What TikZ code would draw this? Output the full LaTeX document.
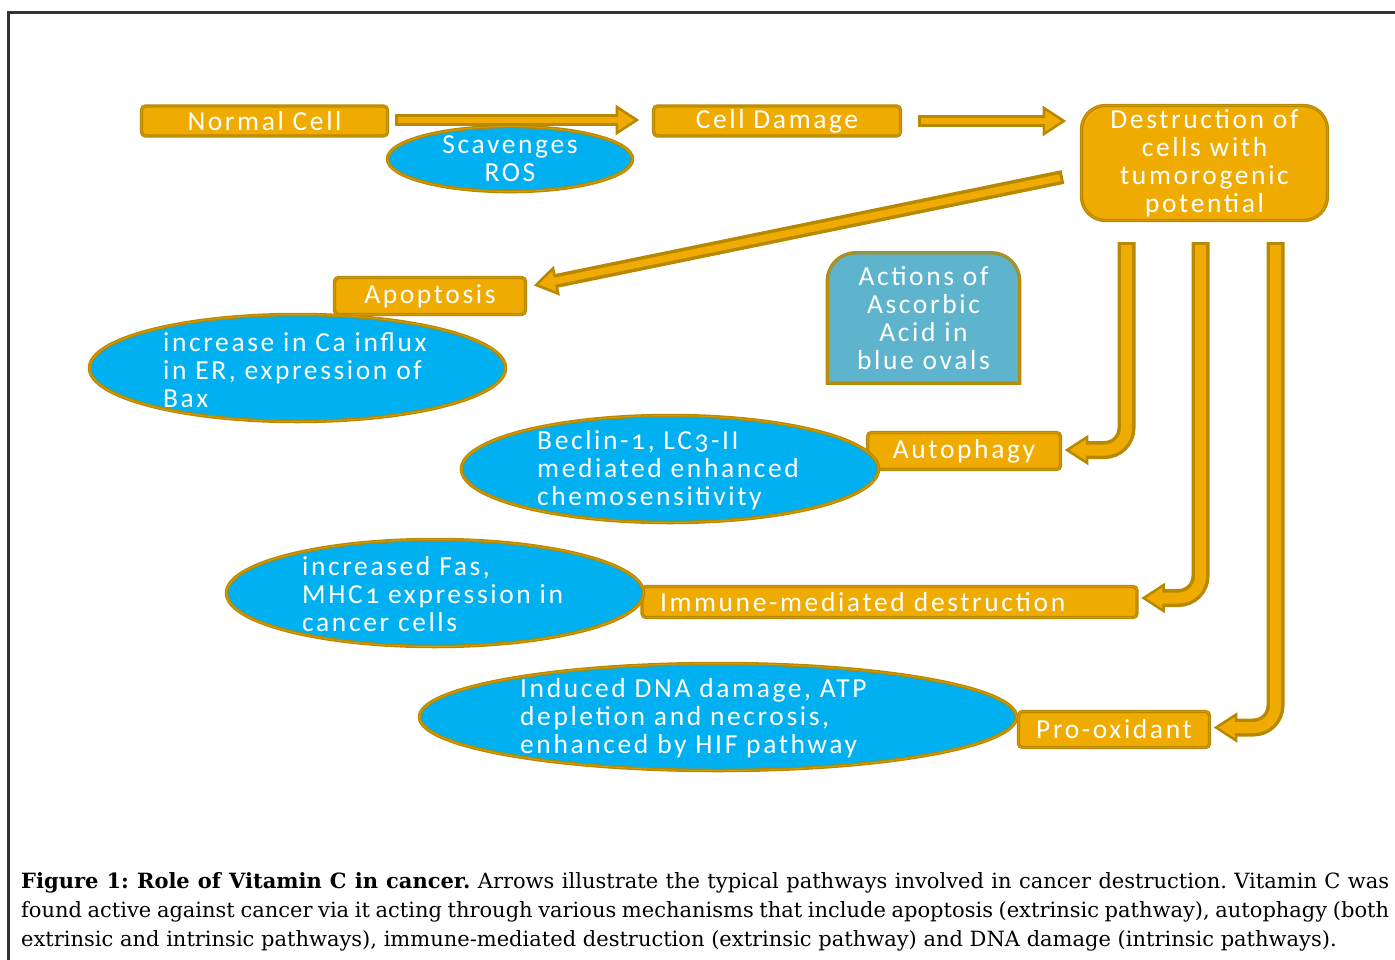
\documentclass[tikz,border=0pt]{standalone}
\usepackage{fontspec}
\setmainfont{DejaVu Serif}
\newfontfamily\dgfont[LetterSpace=9.5,Numbers=OldStyle]{Carlito}
\usetikzlibrary{positioning,calc,shapes.geometric,backgrounds}
\definecolor{boxOr}{HTML}{EFAB00}
\definecolor{rimGold}{HTML}{B88800}
\definecolor{ovBlue}{HTML}{00B0F0}
\definecolor{actBlue}{HTML}{5EB3CD}
\definecolor{frameGray}{HTML}{333333}
\tikzstyle{oBox}=[rectangle,rounded corners=4pt,fill=boxOr,draw=rimGold,line width=1.2pt,double=rimGold!45!boxOr,double distance=0.9pt,text=white,font=\dgfont\fontsize{27.5}{28}\selectfont,inner sep=0pt,align=center]
\tikzstyle{bOval}=[ellipse,fill=ovBlue,draw=rimGold,line width=1.3pt,double=rimGold!45!boxOr,double distance=0.9pt,inner sep=0pt,text=white,font=\dgfont\fontsize{27.5}{28}\selectfont,align=center]
\tikzstyle{ovText}=[text=white,font=\dgfont\fontsize{27.5}{28}\selectfont,inner sep=0pt,align=left]
\tikzstyle{actRim}=[fill=actBlue,draw=rimGold,line width=1.2pt,double=rimGold!45!actBlue,double distance=0.9pt]
\tikzstyle{shOut}=[draw=rimGold,line width=12pt]
\tikzstyle{shIn}=[draw=boxOr,line width=6pt]
\tikzstyle{shOutB}=[draw=rimGold,line width=18pt,rounded corners=22pt]
\tikzstyle{shInB}=[draw=boxOr,line width=11pt,rounded corners=22pt]
\tikzstyle{capText}=[text width=1368pt,align=justify,inner sep=0pt,font=\fontsize{21}{29}\selectfont]
\tikzset{lHead/.pic={\filldraw[fill=boxOr,draw=rimGold,line width=2.5pt] (0,0) -- (20,-13) -- (20,13) -- cycle;}}

\begin{document}
\begin{tikzpicture}[x=1pt,y=-1pt]
\useasboundingbox (0,0) rectangle (1395,959);
\draw[frameGray,line width=3pt] (1400,12) -- (8,12) -- (8,962);

                \draw (264.5,121) node[oBox,minimum width=246pt,minimum height=30pt] (normal) {Normal Cell};
                \draw (777,121) node[oBox,minimum width=247pt,minimum height=30pt] (damage) {Cell Damage};
                \draw (1204.5,163) node[oBox,rounded corners=24pt,minimum width=246pt,minimum height=115pt] (dest) {Destruction of\\cells with\\tumorogenic\\potential};
                \draw (430,296) node[oBox,minimum width=191pt,minimum height=37pt] (apop) {Apoptosis};
                \draw (964,451) node[oBox,minimum width=193pt,minimum height=37pt] (autoph) {Autophagy};
                \draw (889.5,602) node[oBox,minimum height=31pt,text width=459pt,inner xsep=18pt,align=left] (immune) {Immune-mediated destruction};
                \draw (1114,729.5) node[oBox,minimum width=191pt,minimum height=36pt] (prox) {Pro-oxidant};
                \draw (923.5,318) node[ovText,align=center,minimum width=192pt,minimum height=130pt] (actions) {Actions of\\Ascorbic\\Acid in\\blue ovals};
                \begin{scope}[on background layer]
                \draw[actRim] (actions.south west) -- ([yshift=-28pt]actions.north west) arc[start angle=180,end angle=90,radius=28pt] -- ([xshift=-28pt]actions.north east) arc[start angle=90,end angle=0,radius=28pt] -- (actions.south east) -- cycle;
                \end{scope}

                % blue ovals
                \draw (510,159) node[bOval,minimum width=245pt,minimum height=60pt] (ros) {Scavenges\\ROS};
                \draw (297.5,368) node[bOval,minimum width=416pt,minimum height=107pt] (ca) {};
                \draw (670,469) node[bOval,minimum width=417pt,minimum height=107pt] (beclin) {};
                \draw (435,593) node[bOval,minimum width=417pt,minimum height=107pt] (fas) {};
                \draw (718,717) node[bOval,minimum width=597pt,minimum height=107pt] (dna) {};
                \draw ($(ca.center)+(-134.5,2)$) node[ovText,anchor=west] (caTxt) {increase in Ca influx\\in ER, expression of\\Bax};
                \draw ($(beclin.center)+(-133,1)$) node[ovText,anchor=west] (beclinTxt) {Beclin-1, LC3-II\\mediated enhanced\\chemosensitivity};
                \draw ($(fas.center)+(-133,1)$) node[ovText,anchor=west] (fasTxt) {increased Fas,\\MHC1 expression in\\cancer cells};
                \draw ($(dna.center)+(-198,1)$) node[ovText,anchor=west] (dnaTxt) {Induced DNA damage, ATP\\depletion and necrosis,\\enhanced by HIF pathway};

                % straight arrows
                \coordinate (a1t) at ($(normal.east)+(7,-1)$);
                \coordinate (a1h) at ($(damage.west)+(-16,-1)$);
                \draw[shOut] (a1t) -- ($(a1h)!18pt!(a1t)$);
                \pic[rotate=180] at (a1h) {lHead};
                \draw[shIn] ($(a1t)!3pt!(a1h)$) -- ($(a1h)!17pt!(a1t)$);

                \coordinate (a2t) at ($(damage.east)+(17,0)$);
                \coordinate (a2h) at ($(dest.west |- damage.east)+(-17,0)$);
                \draw[shOut] (a2t) -- ($(a2h)!18pt!(a2t)$);
                \pic[rotate=180] at (a2h) {lHead};
                \draw[shIn] ($(a2t)!3pt!(a2h)$) -- ($(a2h)!17pt!(a2t)$);

                \coordinate (a3t) at ($(dest.west)+(-18,14)$);
                \coordinate (a3h) at ($(apop.east)+(10,-11)$);
                \draw[shOut,line width=14pt] (a3t) -- ($(a3h)!18pt!(a3t)$);
                \pic[rotate=11.6] at (a3h) {lHead};
                \draw[shIn,line width=7pt] ($(a3t)!3pt!(a3h)$) -- ($(a3h)!17pt!(a3t)$);

                % bent arrows
                \coordinate (b1s) at ($(dest.south)+(-78,21)$);
                \coordinate (b1h) at ($(autoph.east)+(6,-1)$);
                \draw[shOutB] (b1s) |- ($(b1h)+(18,0)$);
                \pic at (b1h) {lHead};
                \draw[shInB] ($(b1s)+(0,3)$) |- ($(b1h)+(17,0)$);

                \coordinate (b2s) at ($(dest.south)+(-4,21)$);
                \coordinate (b2h) at ($(immune.east)+(6,-4)$);
                \draw[shOutB] (b2s) |- ($(b2h)+(18,0)$);
                \pic at (b2h) {lHead};
                \draw[shInB] ($(b2s)+(0,3)$) |- ($(b2h)+(17,0)$);

                \coordinate (b3s) at ($(dest.south)+(71,21)$);
                \coordinate (b3h) at ($(prox.east)+(6,-2)$);
                \draw[shOutB] (b3s) |- ($(b3h)+(18,0)$);
                \pic at (b3h) {lHead};
                \draw[shInB] ($(b3s)+(0,3)$) |- ($(b3h)+(17,0)$);

                \draw (21,872) node[capText,anchor=north west] (caption) {\frenchspacing\hyphenpenalty=10000\textbf{Figure 1: Role of Vitamin C in cancer.} Arrows illustrate the typical pathways involved in cancer destruction. Vitamin C was\linebreak found active against cancer via it acting through various mechanisms that include apoptosis (extrinsic pathway), autophagy (both\linebreak extrinsic and intrinsic pathways), immune-mediated destruction (extrinsic pathway) and DNA damage (intrinsic pathways).};

\end{tikzpicture}
\end{document}
